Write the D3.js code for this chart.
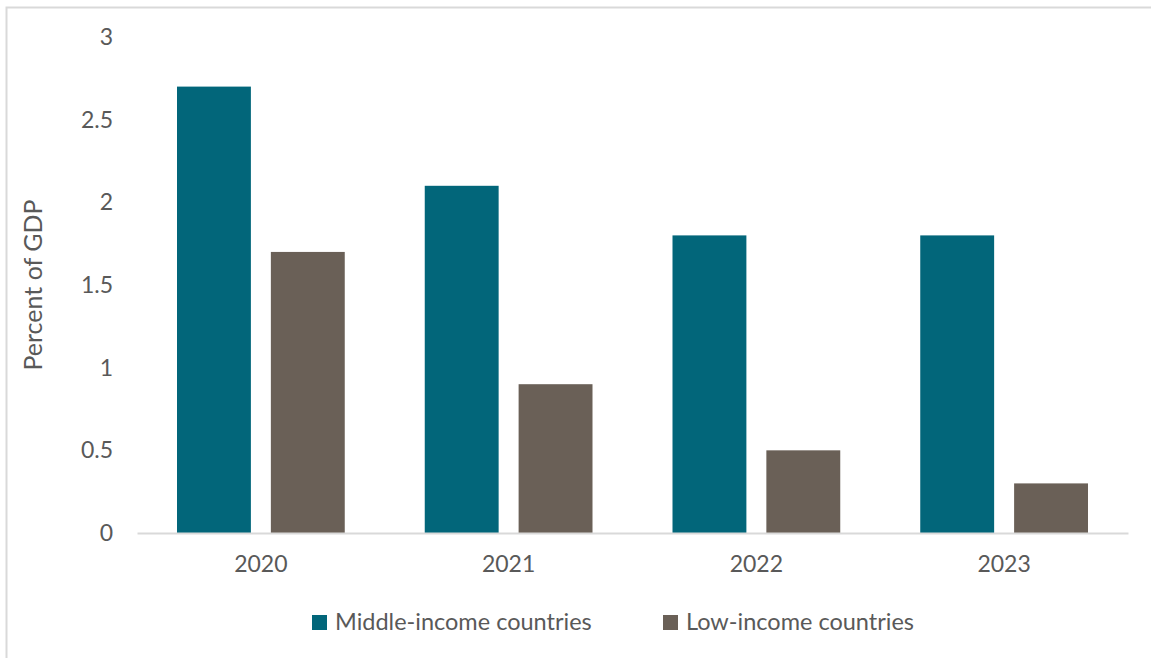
<!DOCTYPE html>
<html>
<head>
<meta charset="utf-8">
<script src="https://cdn.jsdelivr.net/npm/d3@7"></script>
<style>
  body { margin: 0; background: #fff; }
  svg text { font-family: Lato, "Open Sans", sans-serif; fill: #595959; }
</style>
</head>
<body>
<div id="chart"></div>
<script>
// dati
const anni = ['2020', '2021', '2022', '2023'];
const serieNomi = ['Middle-income countries', 'Low-income countries'];
const middleIncome = [2.7, 2.1, 1.8, 1.8];
const lowIncome = [1.7, 0.9, 0.5, 0.3];
const yTicks = [0, 0.5, 1, 1.5, 2, 2.5, 3];
const colori = ['#02667a', '#6a6057'];

const width = 1151, height = 658;
const margin = { top: 37, right: 23, bottom: 125, left: 137 };
const w = width - margin.left - margin.right;
const h = height - margin.top - margin.bottom;

const svg = d3.select('#chart').append('svg')
    .attr('width', width)
    .attr('height', height);

// bordo grigio attorno al grafico
svg.append('rect')
    .attr('x', 6.5).attr('y', 7.5)
    .attr('width', width + 10).attr('height', height + 10)
    .attr('fill', 'none')
    .attr('stroke', '#d9d9d9')
    .attr('stroke-width', 2);

const g = svg.append('g')
    .attr('transform', `translate(${margin.left},${margin.top})`);

// una banda per anno, dentro due barre da ~74px con 20px di spazio
const x0 = d3.scaleBand().domain(anni).range([0, w]).padding(0);
const x1 = d3.scaleBand().domain(serieNomi)
    .range([40, x0.bandwidth() - 40])
    .paddingInner(0.2128);
const y = d3.scaleLinear().domain([0, 3]).range([h, 0]);

// ricostruisco i dati per anno
const righe = anni.map((a, i) => ({ anno: a, valori: [middleIncome[i], lowIncome[i]] }));

const gruppi = g.selectAll('.gruppo')
    .data(righe)
    .join('g')
    .attr('class', 'gruppo')
    .attr('transform', d => `translate(${x0(d.anno)},0)`);

gruppi.selectAll('rect')
    .data(d => d.valori.map((v, j) => ({ serie: serieNomi[j], v, j })))
    .join('rect')
    .attr('x', d => x1(d.serie))
    .attr('width', x1.bandwidth())
    .attr('y', d => y(d.v))
    .attr('height', d => h - y(d.v))
    .attr('fill', d => colori[d.j]);

// asse y senza linea
const yAxis = g.append('g')
    .call(d3.axisLeft(y).tickValues(yTicks).tickSize(0).tickPadding(24).tickFormat(d3.format('')));
yAxis.select('.domain').remove();
yAxis.selectAll('text').style('font-size', '23px');

// asse x (linea base)
const xAxis = g.append('g')
    .attr('transform', `translate(0,${h})`)
    .call(d3.axisBottom(x0).tickSize(0).tickPadding(23));
xAxis.select('.domain').attr('stroke', '#d9d9d9').attr('stroke-width', 2);
xAxis.selectAll('text').style('font-size', '23px');

// etichetta asse y
svg.append('text')
    .attr('transform', 'translate(42,285) rotate(-90)')
    .attr('text-anchor', 'middle')
    .style('font-size', '25px')
    .text('Percent of GDP');

// legenda
const legenda = svg.append('g').attr('transform', 'translate(312,615)');
const posX = [0, 351];
serieNomi.forEach((nome, i) => {
    const r = legenda.append('g').attr('transform', `translate(${posX[i]},0)`);
    r.append('rect').attr('width', 15).attr('height', 15).attr('fill', colori[i]);
    r.append('text').attr('x', 23).attr('y', 15).style('font-size', '23.5px').text(nome);
});
</script>
</body>
</html>
